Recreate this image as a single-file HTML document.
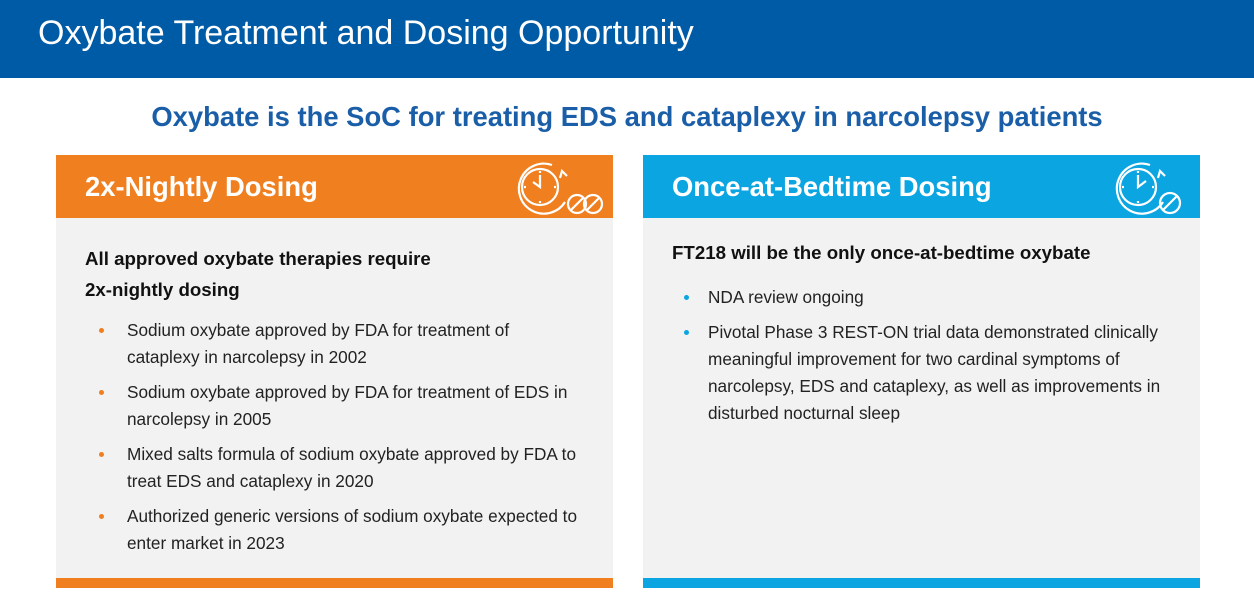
<!DOCTYPE html>
<html><head><meta charset="utf-8"><style>
*{margin:0;padding:0;box-sizing:border-box}
body{width:1254px;height:614px;background:#fff;position:relative;overflow:hidden;font-family:"Liberation Sans",sans-serif}
.a{position:absolute;white-space:nowrap}
.b{font-size:17.2px;color:#222}
.dot{position:absolute;width:5px;height:5px;border-radius:50%}
</style></head><body>
<div class="a" style="left:0;top:0;width:1254px;height:78px;background:#005ba6"></div>
<div class="a" style="left:38px;top:14px;font-size:34px;color:#fff">Oxybate Treatment and Dosing Opportunity</div>
<div class="a" style="left:0;width:1254px;text-align:center;top:101px;font-size:27.4px;font-weight:bold;color:#1a5ea8">Oxybate is the SoC for treating EDS and cataplexy in narcolepsy patients</div>

<div class="a" style="left:56px;top:155px;width:557px;height:433px;background:#f2f2f2"></div>
<div class="a" style="left:56px;top:155px;width:557px;height:63px;background:#f07f1f"></div>
<div class="a" style="left:56px;top:578px;width:557px;height:10px;background:#f07f1f"></div>
<div class="a" style="left:85px;top:171px;font-size:27.4px;font-weight:bold;color:#fff">2x-Nightly Dosing</div>
<svg class="a" style="left:510px;top:158px" width="95" height="60" viewBox="0 0 95 60" fill="none" stroke="#fff" stroke-width="2.2"><path d="M42 7 A25 25 0 1 0 55 44"/><circle cx="30" cy="29" r="18"/><path d="M30 17v12l-7 -5"/><path d="M30 13v2M30 43v2M14 29h2M44 29h2"/><path d="M50 20 l2 -7 l5 5"/><circle cx="67" cy="46" r="9"/><path d="M61 52l12-12"/><circle cx="83" cy="46" r="9"/><path d="M77 52l12-12"/></svg>
<div class="a" style="left:85px;top:243px;font-size:18.7px;font-weight:bold;color:#111;line-height:31px">All approved oxybate therapies require<br>2x-nightly dosing</div>
<div>
<div class="dot" style="left:99px;top:328px;background:#f07f1f"></div><div class="a b" style="left:127px;top:317px;line-height:27px">Sodium oxybate approved by FDA for treatment of<br>cataplexy in narcolepsy in 2002</div>
<div class="dot" style="left:99px;top:390px;background:#f07f1f"></div><div class="a b" style="left:127px;top:379px;line-height:27px">Sodium oxybate approved by FDA for treatment of EDS in<br>narcolepsy in 2005</div>
<div class="dot" style="left:99px;top:452px;background:#f07f1f"></div><div class="a b" style="left:127px;top:441px;line-height:27px">Mixed salts formula of sodium oxybate approved by FDA to<br>treat EDS and cataplexy in 2020</div>
<div class="dot" style="left:99px;top:514px;background:#f07f1f"></div><div class="a b" style="left:127px;top:503px;line-height:27px">Authorized generic versions of sodium oxybate expected to<br>enter market in 2023</div>
</div>

<div class="a" style="left:643px;top:155px;width:557px;height:433px;background:#f2f2f2"></div>
<div class="a" style="left:643px;top:155px;width:557px;height:63px;background:#0ba5e2"></div>
<div class="a" style="left:643px;top:578px;width:557px;height:10px;background:#0ba5e2"></div>
<div class="a" style="left:672px;top:171px;font-size:27.4px;font-weight:bold;color:#fff">Once-at-Bedtime Dosing</div>
<svg class="a" style="left:1108px;top:158px" width="80" height="60" viewBox="0 0 80 60" fill="none" stroke="#fff" stroke-width="2.2"><path d="M42 7 A25 25 0 1 0 55 44"/><circle cx="30" cy="29" r="18"/><path d="M30 17v12l8 -6"/><path d="M30 13v2M30 43v2M14 29h2M44 29h2"/><path d="M50 20 l2 -7 l5 5"/><circle cx="62" cy="45" r="10"/><path d="M55 52l14-14"/></svg>
<div class="a" style="left:672px;top:242px;font-size:18.7px;font-weight:bold;color:#111">FT218 will be the only once-at-bedtime oxybate</div>
<div>
<div class="dot" style="left:684px;top:295px;background:#0ba5e2"></div><div class="a b" style="left:708px;top:284px;line-height:27px">NDA review ongoing</div>
<div class="dot" style="left:684px;top:330px;background:#0ba5e2"></div><div class="a b" style="left:708px;top:319px;line-height:27px">Pivotal Phase 3 REST-ON trial data demonstrated clinically<br>meaningful improvement for two cardinal symptoms of<br>narcolepsy, EDS and cataplexy, as well as improvements in<br>disturbed nocturnal sleep</div>
</div>
</body></html>
